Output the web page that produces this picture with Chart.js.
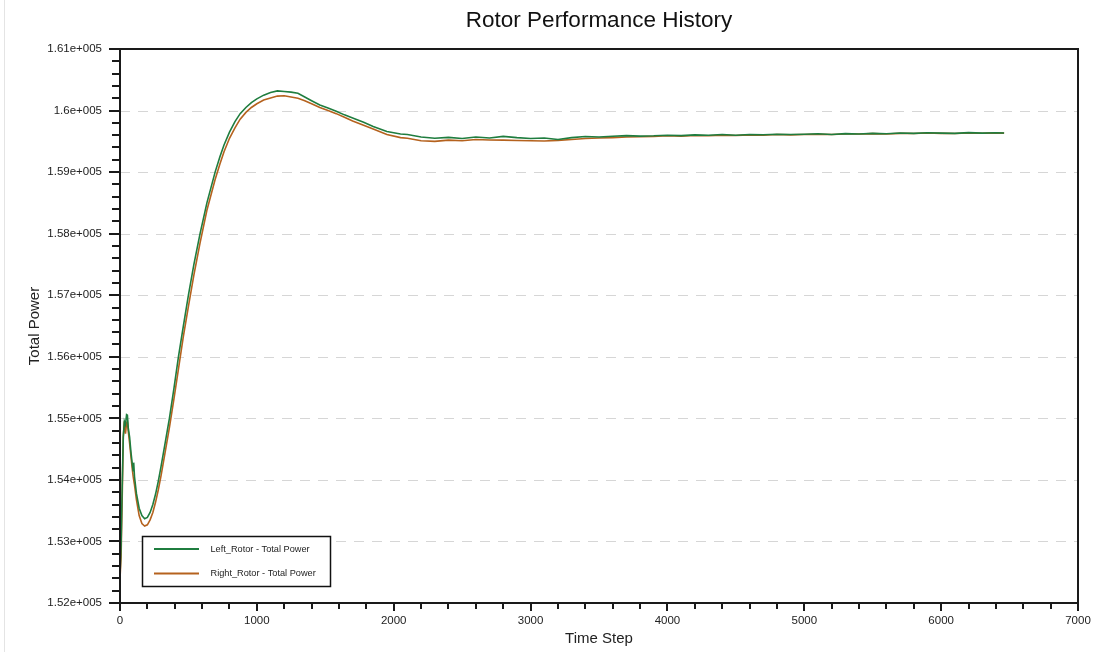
<!DOCTYPE html>
<html>
<head>
<meta charset="utf-8">
<script src="https://cdn.jsdelivr.net/npm/chart.js@4.4.1/dist/chart.umd.min.js"></script>
<style>
html,body{margin:0;padding:0;background:#fff;}
#wrap{width:1099px;height:652px;position:relative;}
</style>
</head>
<body>
<div id="wrap"><canvas id="c" width="1099" height="652"></canvas></div>
<script>
const chartTitle = 'Rotor Performance History';
const xAxisTitle = 'Time Step';
const yAxisTitle = 'Total Power';
const seriesNames = ['Left_Rotor - Total Power', 'Right_Rotor - Total Power'];

const timeSteps = [
  0,8,16,24,32,40,48,54,60,70,
  80,90,96,100,106,120,140,160,180,200,
  220,240,260,280,300,330,361,395,427,463,
  500,540,585,635,695,730,760,800,840,878,
  920,960,1000,1050,1100,1150,1200,1250,1300,1350,
  1400,1460,1520,1580,1640,1700,1780,1850,1950,2050,
  2100,2200,2300,
  2400,2500,2600,2700,2800,2900,3000,3100,3200,3300,
  3400,3500,3600,3700,3800,3900,4000,4100,4200,4300,
  4400,4500,4600,4700,4800,4900,5000,5100,5200,5300,
  5400,5500,5600,5700,5800,5900,6000,6100,6200,6300,
  6400,6460
];

const leftRotorPower = [
  152450,152950,153900,154700,154950,154900,155060,155050,154850,154700,
  154450,154250,154150,154280,154050,153780,153540,153420,153370,153390,
  153470,153600,153770,153980,154220,154600,155000,155500,156000,156500,
  157000,157500,158000,158500,159000,159250,159440,159650,159820,159950,
  160050,160130,160190,160250,160295,160320,160310,160300,160280,160220,
  160160,160090,160040,159990,159930,159880,159810,159740,159660,159620,
  159610,159570,159550,
  159565,159545,159570,159555,159580,159560,159545,159555,159530,159560,
  159578,159570,159582,159592,159585,159590,159600,159592,159605,159600,
  159612,159600,159610,159606,159616,159610,159616,159622,159612,159626,
  159620,159630,159624,159636,159630,159640,159634,159630,159642,159634,
  159640,159636
];

const rightRotorPower = [
  152400,152750,153700,154700,154950,154750,154920,154950,154800,154600,
  154380,154170,154060,154000,153920,153680,153420,153290,153250,153270,
  153350,153470,153640,153840,154070,154450,154850,155330,155800,156330,
  156820,157330,157850,158380,158880,159130,159330,159550,159720,159860,
  159970,160050,160110,160170,160205,160235,160240,160220,160200,160160,
  160110,160050,160000,159950,159890,159830,159760,159700,159610,159560,
  159550,159510,159500,
  159520,159510,159530,159522,159520,159514,159510,159505,159515,159530,
  159545,159555,159560,159570,159575,159580,159590,159585,159595,159590,
  159600,159595,159605,159600,159610,159605,159612,159615,159610,159620,
  159618,159625,159620,159630,159628,159635,159630,159628,159635,159632,
  159638,159633
];

const yTickValues = [152000,153000,154000,155000,156000,157000,158000,159000,160000,161000];
const yTickLabels = ['1.52e+005','1.53e+005','1.54e+005','1.55e+005','1.56e+005','1.57e+005','1.58e+005','1.59e+005','1.6e+005','1.61e+005'];
const xTickValues = [0,1000,2000,3000,4000,5000,6000,7000];
const xTickLabels = ['0','1000','2000','3000','4000','5000','6000','7000'];

const seriesColors = ['#1f7d3f', '#b5621e'];
const FONT = "'Liberation Sans', Arial, sans-serif";

function toPoints(xs, ys){ return xs.map((x,i)=>({x:x, y:ys[i]})); }

const decor = {
  id: 'decor',
  beforeDraw(chart){
    const ctx = chart.ctx;
    ctx.save();
    ctx.fillStyle = '#fff';
    ctx.fillRect(0,0,chart.width,chart.height);
    ctx.strokeStyle = '#e4e4e4';
    ctx.lineWidth = 1;
    ctx.beginPath(); ctx.moveTo(4.5,0); ctx.lineTo(4.5,chart.height); ctx.stroke();
    ctx.restore();
  },
  beforeDatasetsDraw(chart){
    const ctx = chart.ctx, a = chart.chartArea, ys = chart.scales.y;
    ctx.save();
    ctx.strokeStyle = '#d6d6d6';
    ctx.lineWidth = 1.2;
    ctx.setLineDash([10,8]);
    yTickValues.forEach((v,i)=>{
      if(i===0 || i===yTickValues.length-1) return;
      const py = Math.round(ys.getPixelForValue(v)) + 0.5;
      ctx.beginPath(); ctx.moveTo(a.left, py); ctx.lineTo(a.right, py); ctx.stroke();
    });
    ctx.restore();
  },
  afterDatasetsDraw(chart){
    const ctx = chart.ctx, a = chart.chartArea, xs = chart.scales.x, ys = chart.scales.y;
    ctx.save();
    ctx.strokeStyle = '#1a1a1a';
    ctx.lineWidth = 2;
    ctx.strokeRect(a.left, a.top, a.right - a.left, a.bottom - a.top);
    for(let v = ys.min; v <= ys.max + 1; v += 200){
      const major = Math.abs(v % 1000) < 1;
      const py = Math.round(ys.getPixelForValue(v));
      ctx.beginPath();
      ctx.moveTo(a.left - (major ? 11 : 8), py);
      ctx.lineTo(a.left, py);
      ctx.stroke();
    }
    for(let t = xs.min; t <= xs.max + 1; t += 200){
      const major = Math.abs(t % 1000) < 1;
      const px = Math.round(xs.getPixelForValue(t));
      ctx.beginPath();
      ctx.moveTo(px, a.bottom);
      ctx.lineTo(px, a.bottom + (major ? 8 : 6));
      ctx.stroke();
    }
    const lx = 142.5, ly = 536.5, lw = 188, lh = 50;
    ctx.fillStyle = '#fff';
    ctx.fillRect(lx, ly, lw, lh);
    ctx.strokeStyle = '#111';
    ctx.lineWidth = 1.5;
    ctx.strokeRect(lx, ly, lw, lh);
    const rows = [549, 573.5];
    chart.data.datasets.forEach((ds,i)=>{
      ctx.strokeStyle = ds.borderColor;
      ctx.lineWidth = 2;
      ctx.beginPath(); ctx.moveTo(154, rows[i]); ctx.lineTo(199, rows[i]); ctx.stroke();
      ctx.fillStyle = '#222';
      ctx.font = '9.2px ' + FONT;
      ctx.textAlign = 'left';
      ctx.textBaseline = 'middle';
      ctx.fillText(ds.label, 210.5, rows[i]);
    });
    ctx.fillStyle = '#111';
    ctx.font = '22.5px ' + FONT;
    ctx.textAlign = 'center';
    ctx.textBaseline = 'middle';
    ctx.fillText(chartTitle, (a.left + a.right)/2, 21);
    ctx.font = '15px ' + FONT;
    ctx.fillStyle = '#222';
    ctx.fillText(xAxisTitle, (a.left + a.right)/2, 639);
    ctx.translate(35, (a.top + a.bottom)/2);
    ctx.rotate(-Math.PI/2);
    ctx.fillText(yAxisTitle, 0, 0);
    ctx.restore();
  }
};

new Chart(document.getElementById('c'), {
  type: 'line',
  data: {
    datasets: [
      { label: seriesNames[0], data: toPoints(timeSteps, leftRotorPower), borderColor: seriesColors[0], borderWidth: 1.6, pointRadius: 0, tension: 0, fill: false },
      { label: seriesNames[1], data: toPoints(timeSteps, rightRotorPower), borderColor: seriesColors[1], borderWidth: 1.6, pointRadius: 0, tension: 0, fill: false }
    ]
  },
  options: {
    responsive: false,
    animation: false,
    devicePixelRatio: 1,
    layout: { padding: { left: 0, right: 21, top: 49, bottom: 0 } },
    plugins: { legend: { display: false }, title: { display: false }, tooltip: { enabled: false } },
    scales: {
      x: {
        type: 'linear', min: 0, max: 7000,
        grid: { display: false, drawTicks: false },
        border: { display: false },
        afterFit(s){ s.height = 49; s.paddingLeft = 0; s.paddingRight = 0; },
        afterBuildTicks(s){ s.ticks = xTickValues.map(v=>({value:v})); },
        ticks: { padding: 11, color: '#222', font: { size: 11.5, family: FONT }, maxRotation: 0, autoSkip: false,
          callback(v, i){ return xTickLabels[i]; } }
      },
      y: {
        type: 'linear', min: 152000, max: 161000,
        grid: { display: false, drawTicks: false },
        border: { display: false },
        afterFit(s){ s.width = 120; s.paddingTop = 0; s.paddingBottom = 0; },
        afterBuildTicks(s){ s.ticks = yTickValues.map(v=>({value:v})); },
        ticks: { padding: 18, color: '#222', font: { size: 11.5, family: FONT }, autoSkip: false,
          callback(v, i){ return yTickLabels[i]; } }
      }
    }
  },
  plugins: [decor]
});
</script>
</body>
</html>
